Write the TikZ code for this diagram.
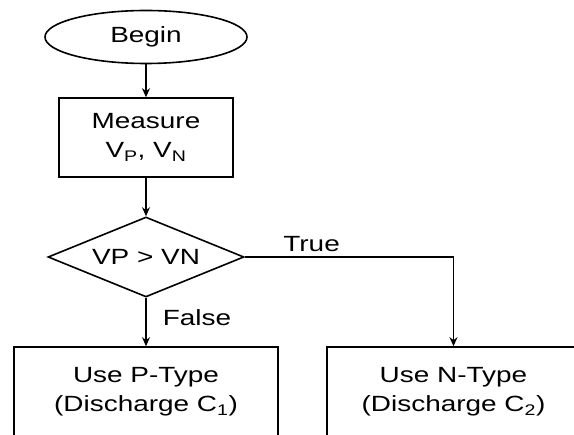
\documentclass[tikz,border=0pt]{standalone}
\usepackage{fontspec}
\setmainfont{Liberation Sans}[FakeStretch=1.27]
\usetikzlibrary{shapes.geometric,arrows.meta}
\begin{document}
\begin{tikzpicture}[x=1pt,y=-1pt,
  every node/.style={font=\fontsize{22}{29}\selectfont, text=black},
  flowline/.style={line width=1.6pt, draw=black},
  conn/.style={flowline, -{Stealth[length=9pt,width=8pt]}},
  terminal/.style={ellipse, flowline, minimum width=202pt, minimum height=53pt, inner sep=0pt},
  procbox/.style={rectangle, flowline, align=center, inner sep=0pt},
  decision/.style={diamond, flowline, minimum width=196pt, minimum height=80pt, inner sep=0pt, aspect=2.45},
  lbl/.style={inner sep=0pt}]
\useasboundingbox (0,0) rectangle (574,435);
\fill[white] (0,0) rectangle (574,435);

\node[terminal] (begin) at (146,37) {Begin};
\node[procbox, minimum width=174pt, minimum height=79pt] (measure) at (146,137.5)
  {Measure\\V\textsubscript{P}, V\textsubscript{N}};
\node[decision] (dec) at (146,257) {VP > VN};
\node[procbox, minimum width=264pt, minimum height=90pt] (pbox) at (146,392)
  {Use P-Type\\(Discharge C\textsubscript{1})};
\node[procbox, minimum width=253pt, minimum height=90pt] (nbox) at (453.5,392)
  {Use N-Type\\(Discharge C\textsubscript{2})};

\draw[conn] (begin.south) -- (measure.north);
\draw[conn] (measure.south) -- (dec.north);
\draw[conn] (dec.south) -- (pbox.north)
  node[lbl, pos=0.42, anchor=west, xshift=16pt] {False};
\draw[conn] (dec.east) -| (nbox.north)
  node[lbl, pos=0.16, anchor=south, yshift=4pt] {True};
\end{tikzpicture}
\end{document}
